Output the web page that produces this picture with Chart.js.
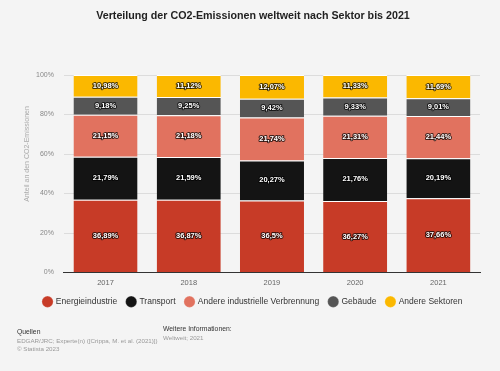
<!DOCTYPE html>
<html>
<head>
	<title></title>
	<style>
		body { margin: 0; background: #f4f4f4; font-family: "Liberation Sans", Arial, sans-serif; }
		#wrap { position: relative; width: 500px; height: 371px; }
		#co2Chart { position: absolute; left: 0; top: 0; }
		.foot { position: absolute; font-size: 6.2px; color: #999; line-height: 8.5px; }
		.foot b { color: #333; font-weight: normal; font-size: 6.8px; }
	</style>
</head>
<body>
<div id="wrap">
	<canvas id="co2Chart" width="500" height="371"></canvas>
	<div class="foot" style="left:17px; top:328px;"><b>Quellen</b><br>EDGAR/JRC; Experte(n) ([Crippa, M. et al. (2021)])<br>© Statista 2023</div>
	<div class="foot" style="left:163px; top:325px;"><b>Weitere Informationen:</b><br>Weltweit; 2021</div>
</div>
<script src="https://cdn.jsdelivr.net/npm/chart.js@4/dist/chart.umd.min.js"></script>
<script>
	// data
	var YEARS = ['2017', '2018', '2019', '2020', '2021'];
	var ENERGIE = [36.89, 36.87, 36.5, 36.27, 37.66];
	var TRANSPORT = [21.79, 21.59, 20.27, 21.76, 20.19];
	var INDUSTRIE = [21.15, 21.18, 21.74, 21.31, 21.44];
	var GEBAEUDE = [9.18, 9.25, 9.42, 9.33, 9.01];
	var ANDERE = [10.98, 11.12, 12.07, 11.33, 11.69];
	var Y_TITLE = 'Anteil an den CO2-Emissionen';

	var FONT = '"Liberation Sans", Arial, sans-serif';

	function fmt(v)
	{
		return String(v).replace('.', ',') + '%';
	}

	function ds(label, data, color)
	{
		return {
			label: label,
			data: data,
			backgroundColor: color,
			borderColor: '#ffffff',
			borderWidth: {top: 1, bottom: 0, left: 0, right: 0},
			borderSkipped: false,
			barPercentage: 0.77,
			categoryPercentage: 1
		};
	}

	// white labels with dark outline inside every segment
	var barLabels = {
		id: 'barLabels',
		afterDatasetsDraw: function(chart)
		{
			var ctx = chart.ctx;
			ctx.save();
			ctx.font = 'bold 7.5px ' + FONT;
			ctx.textAlign = 'center';
			ctx.textBaseline = 'middle';
			ctx.lineJoin = 'round';
			chart.data.datasets.forEach(function(d, i) {
				var meta = chart.getDatasetMeta(i);
				meta.data.forEach(function(bar, j) {
					var y = (bar.y + bar.base) / 2;
					var t = fmt(d.data[j]);
					ctx.strokeStyle = 'rgba(0,0,0,0.7)';
					ctx.lineWidth = 2;
					ctx.strokeText(t, bar.x, y);
					ctx.fillStyle = '#ffffff';
					ctx.fillText(t, bar.x, y);
				});
			});
			ctx.restore();
		}
	};

	// y axis title, sits a bit above the middle like the original
	var yTitle = {
		id: 'yTitle',
		afterDraw: function(chart)
		{
			var ctx = chart.ctx;
			ctx.save();
			ctx.translate(27, 154);
			ctx.rotate(-Math.PI / 2);
			ctx.font = '7px ' + FONT;
			ctx.fillStyle = '#aaa';
			ctx.textAlign = 'center';
			ctx.textBaseline = 'middle';
			ctx.fillText(Y_TITLE, 0, 0);
			ctx.restore();
		}
	};

	var ctxB = document.getElementById('co2Chart').getContext('2d');
	var myBarChart = new Chart(ctxB, {
		type: 'bar',
		data: {
			labels: YEARS,
			datasets: [
				ds('Energieindustrie', ENERGIE, '#c73b27'),
				ds('Transport', TRANSPORT, '#141414'),
				ds('Andere industrielle Verbrennung', INDUSTRIE, '#e1725f'),
				ds('Gebäude', GEBAEUDE, '#555555'),
				ds('Andere Sektoren', ANDERE, '#fbb800')
			]
		},
		options: {
			responsive: false,
			animation: false,
			layout: {padding: {left: 26, right: 20, top: 0, bottom: 55}},
			plugins: {
				title: {
					display: true,
					text: 'Verteilung der CO2-Emissionen weltweit nach Sektor bis 2021',
					color: '#222',
					font: {family: FONT, size: 10.7, weight: 'bold'},
					padding: {top: 9.5, bottom: 52.7}
				},
				legend: {
					position: 'bottom',
					labels: {
						usePointStyle: true,
						pointStyle: 'circle',
						boxWidth: 8,
						boxHeight: 8,
						padding: 10,
						color: '#333',
						font: {family: FONT, size: 8.5}
					}
				},
				tooltip: {enabled: false}
			},
			scales: {
				x: {
					stacked: true,
					grid: {display: false, drawTicks: false},
					border: {color: '#333', width: 1},
					ticks: {color: '#666', font: {family: FONT, size: 7.5}, padding: 6},
					afterFit: function(scale) { scale.height -= 6; }
				},
				y: {
					stacked: true,
					min: 0,
					max: 100,
					border: {display: false},
					grid: {color: '#dcdcdc', drawTicks: false},
					ticks: {
						stepSize: 20,
						color: '#888',
						padding: 10,
						font: {family: FONT, size: 7},
						callback: function(v) { return v + '%'; }
					}
				}
			}
		},
		plugins: [barLabels, yTitle]
	});
</script>
</body>
</html>
